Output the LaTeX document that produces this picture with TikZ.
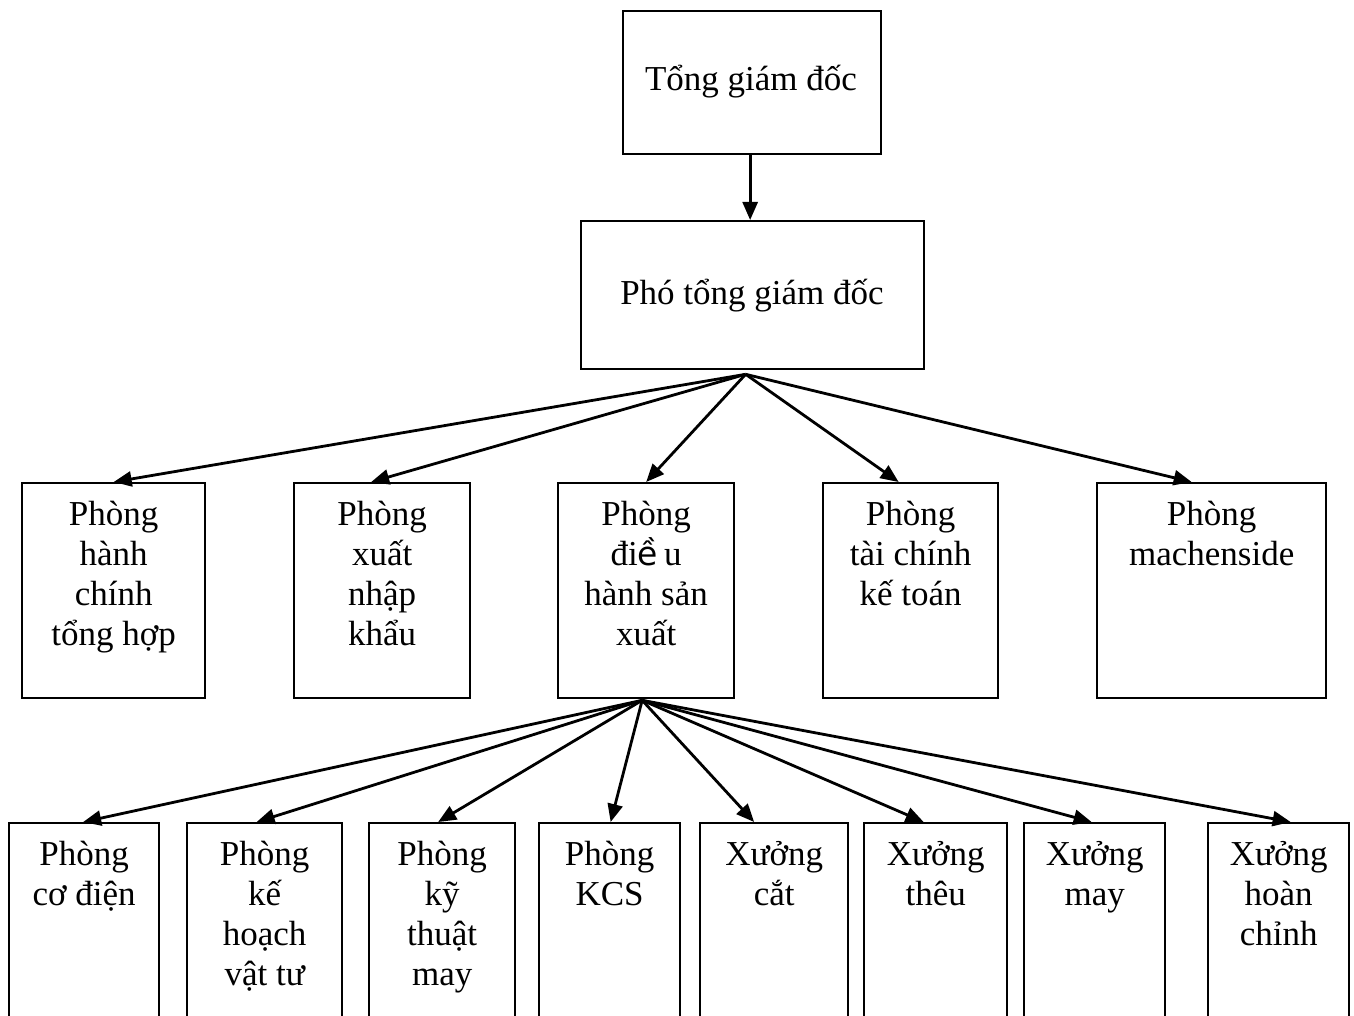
\documentclass[tikz,border=0pt]{standalone}
\usepackage{fontspec}
\setmainfont{Liberation Serif}
\newfontfamily\sansvn{DejaVu Sans}
\usetikzlibrary{arrows.meta}

\tikzset{
  box/.style={draw, line width=2.3pt, rectangle, inner sep=0pt, anchor=north west},
  lbl/.style={anchor=north, inner sep=0pt, align=center, yshift=-19pt,
              font=\fontsize{35}{40}\selectfont, execute at begin node=\strut},
  title/.style={anchor=base, inner sep=0pt, font=\fontsize{35}{40}\selectfont},
  arr/.style={line width=2.8pt, -{Triangle[length=18pt,width=15pt]}},
}

\begin{document}
\begin{tikzpicture}[x=1pt, y=-1pt]
  \useasboundingbox (0,0) rectangle (1354,1016);
  \clip (0,0) rectangle (1354,1016);

  % top management
  \node[box, minimum width=258, minimum height=143] (tgd) at (622,10) {};
  \node[title] (tgdt) at (751,91) {Tổng giám đốc};
  \node[box, minimum width=343, minimum height=148] (pho) at (580,220) {};
  \node[title] (phot) at (752,304) {Phó tổng giám đốc};

  % departments
  \node[box, minimum width=183, minimum height=215] (b1) at (21,482) {};
  \node[box, minimum width=176, minimum height=215] (b2) at (293,482) {};
  \node[box, minimum width=176, minimum height=215] (b3) at (557,482) {};
  \node[box, minimum width=175, minimum height=215] (b4) at (822,482) {};
  \node[box, minimum width=229, minimum height=215] (b5) at (1096,482) {};

  \node[lbl] (b1t) at (b1.north) {Phòng\\hành\\chính\\tổng hợp};
  \node[lbl] (b2t) at (b2.north) {Phòng\\xuất\\nhập\\khẩu};
  \node[lbl] (b3t) at (b3.north) {Phòng\\đi{\sansvn\fontsize{33}{40}\selectfont ề}\,u\\hành sản\\xuất};
  \node[lbl] (b4t) at (b4.north) {Phòng\\tài chính\\kế toán};
  \node[lbl] (b5t) at (b5.north) {Phòng\\machenside};

  % offices and workshops under production
  \node[box, minimum width=150, minimum height=230] (c1) at (8,822) {};
  \node[box, minimum width=155, minimum height=230] (c2) at (186,822) {};
  \node[box, minimum width=146, minimum height=230] (c3) at (368,822) {};
  \node[box, minimum width=141, minimum height=230] (c4) at (538,822) {};
  \node[box, minimum width=148, minimum height=230] (c5) at (699,822) {};
  \node[box, minimum width=143, minimum height=230] (c6) at (863,822) {};
  \node[box, minimum width=141, minimum height=230] (c7) at (1023,822) {};
  \node[box, minimum width=141, minimum height=230] (c8) at (1207,822) {};

  \node[lbl] (c1t) at (c1.north) {Phòng\\cơ điện};
  \node[lbl] (c2t) at (c2.north) {Phòng\\kế\\hoạch\\vật tư};
  \node[lbl] (c3t) at (c3.north) {Phòng\\kỹ\\thuật\\may};
  \node[lbl] (c4t) at (c4.north) {Phòng\\KCS};
  \node[lbl] (c5t) at (c5.north) {Xưởng\\cắt};
  \node[lbl] (c6t) at (c6.north) {Xưởng\\thêu};
  \node[lbl] (c7t) at (c7.north) {Xưởng\\may};
  \node[lbl] (c8t) at (c8.north) {Xưởng\\hoàn\\chỉnh};

  % fan-out points
  \coordinate (f0) at ([xshift=-2pt]tgd.south);
  \coordinate (f1) at ([xshift=-7pt, yshift=-4pt]pho.south);
  \coordinate (f2) at ([xshift=-4pt, yshift=-1pt]b3.south);

  % connectors
  \draw[arr] (f0) -- (f0 |- pho.north);

  \draw[arr] (f1) -- (b1.north);
  \draw[arr] (f1) -- ([xshift=-11pt]b2.north);
  \draw[arr] (f1) -- (b3.north);
  \draw[arr] (f1) -- ([xshift=-12pt]b4.north);
  \draw[arr] (f1) -- ([xshift=-20pt]b5.north);

  \draw[arr] (f2) -- ([xshift=-1pt]c1.north);
  \draw[arr] (f2) -- ([xshift=-8pt]c2.north);
  \draw[arr] (f2) -- ([xshift=-4pt]c3.north);
  \draw[arr] (f2) -- ([xshift=1pt]c4.north);
  \draw[arr] (f2) -- ([xshift=-20pt]c5.north);
  \draw[arr] (f2) -- ([xshift=-12pt]c6.north);
  \draw[arr] (f2) -- ([xshift=-3pt]c7.north);
  \draw[arr] (f2) -- ([xshift=12pt]c8.north);
\end{tikzpicture}
\end{document}
